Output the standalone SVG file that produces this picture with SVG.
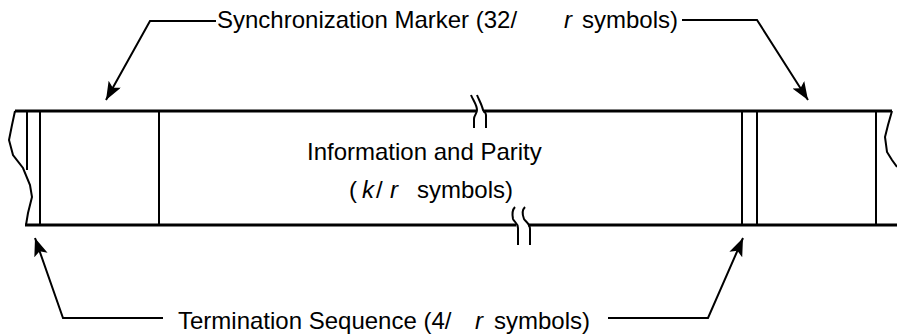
<svg xmlns="http://www.w3.org/2000/svg" width="897" height="334" viewBox="0 0 897 334">
<style>
.t{font-family:"Liberation Sans",Arial,sans-serif;font-size:24px;fill:#000}
.i{font-style:italic}
.thick{stroke:#000;stroke-width:3;fill:none}
.thin{stroke:#000;stroke-width:2;fill:none}
.conn{stroke:#000;stroke-width:2;fill:none;marker-end:url(#ah)}
</style>
<defs>
<marker id="ah" markerUnits="userSpaceOnUse" markerWidth="20" markerHeight="16" refX="18" refY="7" orient="auto">
<path d="M0,0 L18,7 L0,14 L4,7 Z" fill="#000"/>
</marker>
</defs>
<g id="frame">
<path class="thick" d="M15,111 H476 M483,111 H892"/>
<path class="thick" d="M25,225 H516 M528,225 H897"/>
<path class="thin" d="M15,111 L12,125 L9,140 L13,155 L23,168 L30,185 L32,197 L28,213 L26,225"/>
<path class="thin" d="M892,111 L888,125 L885,137 L887,152 L892,160 L897,167"/>
<path class="thin" d="M471,95 C473,100 477,105 477,110 C477,114 474,115 474,119 V128"/>
<path class="thin" d="M477,95 C479,100 482,105 483,110 C484,112 486,112 486,115 V128"/>
<path class="thin" d="M515,207 C512,210 512,214 513,219 C514,222 518,223 518,228 V245"/>
<path class="thin" d="M525,207 C522,210 522,214 524,219 C526,222 530,224 530,229 V245"/>
</g>
<g id="termination-left"><path class="thin" d="M27,111 V170"/></g>
<g id="sync-left"><path class="thin" d="M40,111 V225 M159,111 V225"/></g>
<g id="info-parity">
<text class="t" x="307" y="160">Information and Parity</text>
<text class="t" y="198"><tspan x="349">(</tspan><tspan class="i" x="362">k</tspan><tspan x="376">/</tspan><tspan class="i" x="390">r</tspan><tspan x="417">symbols)</tspan></text>
</g>
<g id="termination-right"><path class="thin" d="M742,111 V225"/></g>
<g id="sync-right"><path class="thin" d="M757,111 V225 M876,111 V225"/></g>
<g id="label-sync">
<text class="t" y="28"><tspan x="217">Synchronization Marker (32/</tspan><tspan class="i" x="564">r</tspan><tspan x="582">symbols)</tspan></text>
</g>
<g id="label-term">
<text class="t" y="329"><tspan x="178">Termination Sequence (4/</tspan><tspan class="i" x="475">r</tspan><tspan x="494">symbols)</tspan></text>
</g>
<g id="connectors">
<path class="conn" d="M216,21 H150 L106,100"/>
<path class="conn" d="M682,20 H757 L808,100"/>
<path class="conn" d="M163,318 H63 L35,238"/>
<path class="conn" d="M608,318 H708 L743,238"/>
</g>
</svg>
